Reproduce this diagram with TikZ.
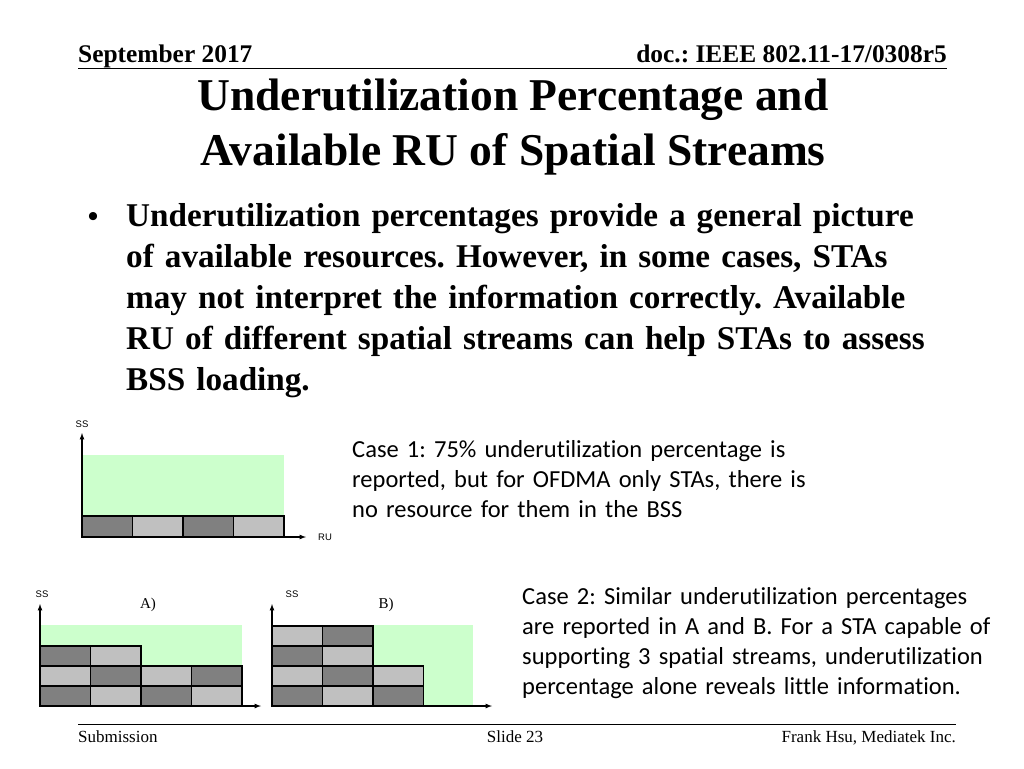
\documentclass[tikz,border=0pt]{standalone}
\usepackage{fontspec}
\setmainfont{Liberation Serif}
\newfontfamily\casefont[Ligatures=NoCommon]{Carlito}
\newfontfamily\axisfont{Liberation Sans}
\definecolor{freegreen}{HTML}{CCFFCC}
\definecolor{rudark}{HTML}{808080}
\definecolor{rulight}{HTML}{C0C0C0}
\frenchspacing
\begin{document}
\begin{tikzpicture}
    [x=1pt, y=-1pt,
     dk/.style={fill=rudark, draw=black, line width=1.2pt},
     lt/.style={fill=rulight, draw=black, line width=1.2pt},
     axis/.style={-latex, line width=1.2pt},
     ax label/.style={font=\axisfont\fontsize{9.5}{10}\selectfont, inner sep=0pt},
     case/.style={font=\casefont\fontsize{24.5}{30.3}\selectfont, anchor=base west,
                  align=left, text width=500pt, inner sep=0pt}]
    \useasboundingbox[fill=white] (0,0) rectangle (1024,768);
    % header and footer
    \node[anchor=base west, inner sep=0pt, font=\bfseries\fontsize{25.4}{26}\selectfont]
        (date) at (78,63) {September 2017};
    \node[anchor=base east, inner sep=0pt, font=\bfseries\fontsize{25.4}{26}\selectfont]
        (doc) at (947,63) {doc.: IEEE 802.11-17/0308r5};
    \draw[line width=1pt] (78,68) coordinate (hl) -- (947,68) coordinate (hr);
    \draw[line width=1pt] (78,724) coordinate (fl) -- (956,724) coordinate (fr);
    \node[anchor=base west, inner sep=0pt, font=\fontsize{17}{17}\selectfont]
        (sub) at (78,742) {Submission};
    \node[anchor=base, inner sep=0pt, font=\fontsize{17}{17}\selectfont]
        (slide) at (515,742) {Slide 23};
    \node[anchor=base east, inner sep=0pt, font=\fontsize{17}{17}\selectfont]
        (auth) at (956,742) {Frank Hsu, Mediatek Inc.};
    % title and bullet
    \node[anchor=base, inner sep=0pt, font=\bfseries\fontsize{45.5}{46}\selectfont]
        (title1) at (513,110) {Underutilization Percentage and};
    \node[anchor=base, inner sep=0pt, font=\bfseries\fontsize{45.5}{46}\selectfont]
        (title2) at (513,165) {Available RU of Spatial Streams};
    \node[anchor=base, inner sep=0pt, font=\bfseries\fontsize{30}{30}\selectfont]
        (dot) at (93,226) {\textbullet};
    \node[anchor=base west, inner sep=0pt, align=left, text width=880pt,
          font=\bfseries\fontsize{33.2}{41}\selectfont] (bullet) at (126,226)
        {Underutilization percentages provide a general picture\\
         of available resources. However, in some cases, STAs\\
         may not interpret the information correctly. Available\\
         RU of different spatial streams can help STAs to assess\\
         BSS loading.};
    % case 1
    \fill[freegreen] (82,455) rectangle (284,516);
    \foreach \x/\s in {82/dk, 132.5/lt, 183/dk, 233.5/lt}
        \draw[\s] (\x,516) rectangle ++(50.5,21);
    \coordinate (o1) at (82,537);
    \coordinate (y1) at (82,433);
    \coordinate (x1) at (306,537);
    \draw[axis] (o1) -- (y1);
    \draw[axis] (o1) -- (x1);
    \node[ax label] (ss1) at (82,424) {SS};
    \node[ax label] (ru1) at (325,537) {RU};
    \node[case] (case1) at (352,457)
        {Case 1: 75\% underutilization percentage is\\
         reported, but for OFDMA only STAs, there is\\
         no resource for them in the BSS};
    % case 2 A
    \fill[freegreen] (40,625) rectangle (242,666);
    \foreach \x/\s in {40/dk, 90.5/lt, 141/dk, 191.5/lt}
        \draw[\s] (\x,686) rectangle ++(50.5,20);
    \foreach \x/\s in {40/lt, 90.5/dk, 141/lt, 191.5/dk}
        \draw[\s] (\x,666) rectangle ++(50.5,20);
    \foreach \x/\s in {40/dk, 90.5/lt}
        \draw[\s] (\x,646) rectangle ++(50.5,20);
    \coordinate (oa) at (40,706);
    \coordinate (ya) at (40,604);
    \coordinate (xa) at (261,706);
    \draw[axis] (oa) -- (ya);
    \draw[axis] (oa) -- (xa);
    \node[ax label] (ssa) at (42,594) {SS};
    \node[font=\fontsize{15}{15}\selectfont] (la) at (148,605) {A)};
    % case 2 B
    \fill[freegreen] (272,625) rectangle (473,706);
    \foreach \x/\s in {272/dk, 322.5/lt, 373/dk}
        \draw[\s] (\x,686) rectangle ++(50.5,20);
    \foreach \x/\s in {272/lt, 322.5/dk, 373/lt}
        \draw[\s] (\x,666) rectangle ++(50.5,20);
    \foreach \x/\s in {272/dk, 322.5/lt}
        \draw[\s] (\x,646) rectangle ++(50.5,20);
    \foreach \x/\s in {272/lt, 322.5/dk}
        \draw[\s] (\x,626) rectangle ++(50.5,20);
    \coordinate (ob) at (272,706);
    \coordinate (yb) at (272,604);
    \coordinate (xb) at (492,706);
    \draw[axis] (ob) -- (yb);
    \draw[axis] (ob) -- (xb);
    \node[ax label] (ssb) at (292,594) {SS};
    \node[font=\fontsize{15}{15}\selectfont] (lb) at (386,605) {B)};
    \node[case] (case2) at (522,604)
        {Case 2: Similar underutilization percentages\\
         are reported in A and B. For a STA capable of\\
         supporting 3 spatial streams, underutilization\\
         percentage alone reveals little information.};
\end{tikzpicture}
\end{document}
